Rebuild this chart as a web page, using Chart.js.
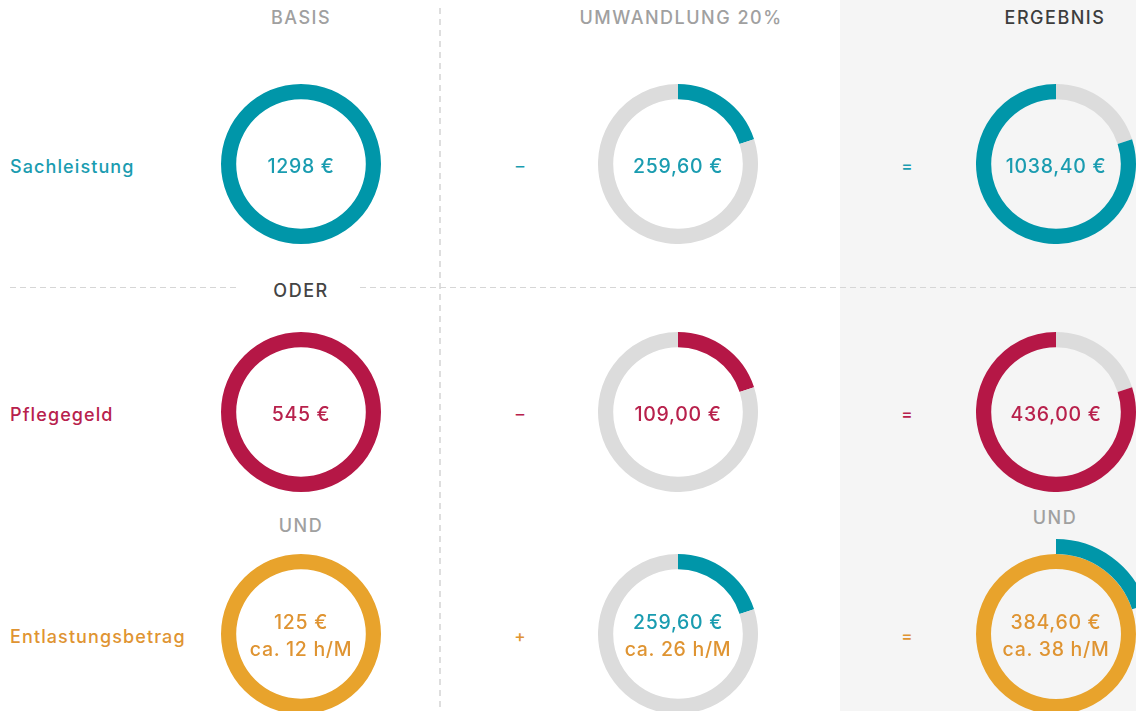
<!DOCTYPE html>
<html lang="de">
<head>
<meta charset="utf-8">
<title>Umwandlung Sachleistung</title>
<script src="https://cdn.jsdelivr.net/npm/chart.js@4/dist/chart.umd.min.js"></script>
<style>
  html, body { margin: 0; padding: 0; }
  body {
    width: 1136px; height: 711px; overflow: hidden; position: relative;
    background: #fff; font-family: "Inter", "Open Sans", sans-serif; font-weight: 500;
  }
  .result-bg { position: absolute; left: 840px; top: 0; width: 296px; height: 711px; background: #f5f5f5; }
  .vline {
    position: absolute; left: 439px; top: 8px; width: 2px; height: 703px;
    background: repeating-linear-gradient(to bottom, #dedede 0 6px, transparent 6px 11px);
  }
  .hline {
    position: absolute; top: 287px; height: 1px;
    background: repeating-linear-gradient(to right, #d6d6d6 0 6px, transparent 6px 10px);
  }
  .head { position: absolute; font-size: 18px; letter-spacing: 1.5px; transform: translate(-50%, -50%); white-space: nowrap; }
  .label { position: absolute; left: 10px; font-size: 18px; letter-spacing: 1.1px; transform: translateY(-50%); white-space: nowrap; }
  .op { position: absolute; font-size: 17px; transform: translate(-50%, -50%); }
  .ring { position: absolute; }
  .center {
    position: absolute; transform: translate(-50%, -50%); text-align: center;
    font-size: 19.5px; line-height: 27px; letter-spacing: 0.7px; white-space: nowrap;
  }
</style>
</head>
<body>
<div class="result-bg"></div>
<div class="vline"></div>
<div class="hline" style="left:10px;width:228px"></div>
<div class="hline" style="left:360px;width:776px"></div>
<div id="page"></div>
<script>
// Zeilen und Spalten
const categories = ["Sachleistung", "Pflegegeld", "Entlastungsbetrag"];
const columns = ["BASIS", "UMWANDLUNG 20%", "ERGEBNIS"];
const operators = [["–", "="], ["–", "="], ["+", "="]];

// Werte in Euro
const basis = [1298, 545, 125];
const umwandlung = [259.60, 109.00, 259.60];
const ergebnis = [1038.40, 436.00, 384.60];
// Stunden pro Monat (nur Entlastungsbetrag)
const stunden = [12, 26, 38];

const colors = ["#0096a9", "#b51746", "#e8a32c"];
const textColors = ["#1a9cb0", "#b8214c", "#df9432"];
const grey = "#dcdcdc";

const colX = [301, 678, 1056];
const rowY = [164, 412, 634];

const page = document.getElementById("page");

function euro(v, dec) {
    return (dec ? v.toFixed(2).replace(".", ",") : String(v)) + " €";
}

function addDiv(cls, text, style) {
    const d = document.createElement("div");
    d.className = cls;
    d.innerHTML = text;
    Object.assign(d.style, style);
    page.appendChild(d);
    return d;
}

function ring(cx, cy, size, datasets, cutout) {
    const c = document.createElement("canvas");
    c.className = "ring";
    c.width = size; c.height = size;
    c.style.left = (cx - size / 2) + "px";
    c.style.top = (cy - size / 2) + "px";
    page.appendChild(c);
    new Chart(c.getContext("2d"), {
        type: "doughnut",
        data: { datasets: datasets },
        options: {
            responsive: false,
            animation: false,
            cutout: cutout,
            layout: { padding: 0 },
            events: [],
            plugins: { legend: { display: false }, tooltip: { enabled: false } },
        },
    });
}

function ds(data, bg) {
    return { data: data, backgroundColor: bg, borderWidth: 0, hoverOffset: 0 };
}

// Spaltenköpfe
addDiv("head", columns[0], { left: colX[0] + "px", top: "17px", color: "#a0a0a0" });
addDiv("head", columns[1], { left: "681px", top: "17px", color: "#a0a0a0" });
addDiv("head", columns[2], { left: "1055px", top: "17px", color: "#3d3d3d" });
addDiv("head", "ODER", { left: colX[0] + "px", top: "290px", color: "#444" });
addDiv("head", "UND", { left: colX[0] + "px", top: "525px", color: "#a0a0a0" });
addDiv("head", "UND", { left: "1055px", top: "517px", color: "#a0a0a0" });

categories.forEach((cat, i) => {
    const y = rowY[i];
    const ty = (y + 2) + "px";
    addDiv("label", cat, { top: ty, color: textColors[i] });
    addDiv("op", operators[i][0], { left: "520px", top: ty, color: textColors[i] });
    addDiv("op", operators[i][1], { left: "907px", top: ty, color: textColors[i] });

    // Basis: voller Ring
    ring(colX[0], y, 160, [ds([basis[i]], colors[i])], "81%");

    if (i < 2) {
        // Umwandlung: 20 % vom Basisbetrag
        ring(colX[1], y, 160, [ds([umwandlung[i], basis[i] - umwandlung[i]], [colors[i], grey])], "81%");
        // Ergebnis: Rest nach Umwandlung
        ring(colX[2], y, 160, [ds([umwandlung[i], ergebnis[i]], [grey, colors[i]])], "81%");

        addDiv("center", euro(basis[i]), { left: colX[0] + "px", top: ty, color: textColors[i] });
        addDiv("center", euro(umwandlung[i], true), { left: colX[1] + "px", top: ty, color: textColors[i] });
        addDiv("center", euro(ergebnis[i], true), { left: colX[2] + "px", top: ty, color: textColors[i] });
    } else {
        // umgewandelter Sachleistungsbetrag kommt hinzu
        const frei = basis[0] - umwandlung[i];
        ring(colX[1], y, 160, [ds([umwandlung[i], frei], [colors[0], grey])], "81%");
        ring(colX[2], y, 190, [
            ds([umwandlung[i], frei], [colors[0], "rgba(0,0,0,0)"]),
            ds([basis[i]], colors[i]),
        ], "68.4%");

        addDiv("center", euro(basis[i]) + "<br>ca. " + stunden[0] + " h/M",
            { left: colX[0] + "px", top: ty, color: textColors[i] });
        addDiv("center", '<span style="color:' + textColors[0] + '">' + euro(umwandlung[i], true) + "</span><br>ca. " + stunden[1] + " h/M",
            { left: colX[1] + "px", top: ty, color: textColors[i] });
        addDiv("center", euro(ergebnis[i], true) + "<br>ca. " + stunden[2] + " h/M",
            { left: colX[2] + "px", top: ty, color: textColors[i] });
    }
});
</script>
</body>
</html>
